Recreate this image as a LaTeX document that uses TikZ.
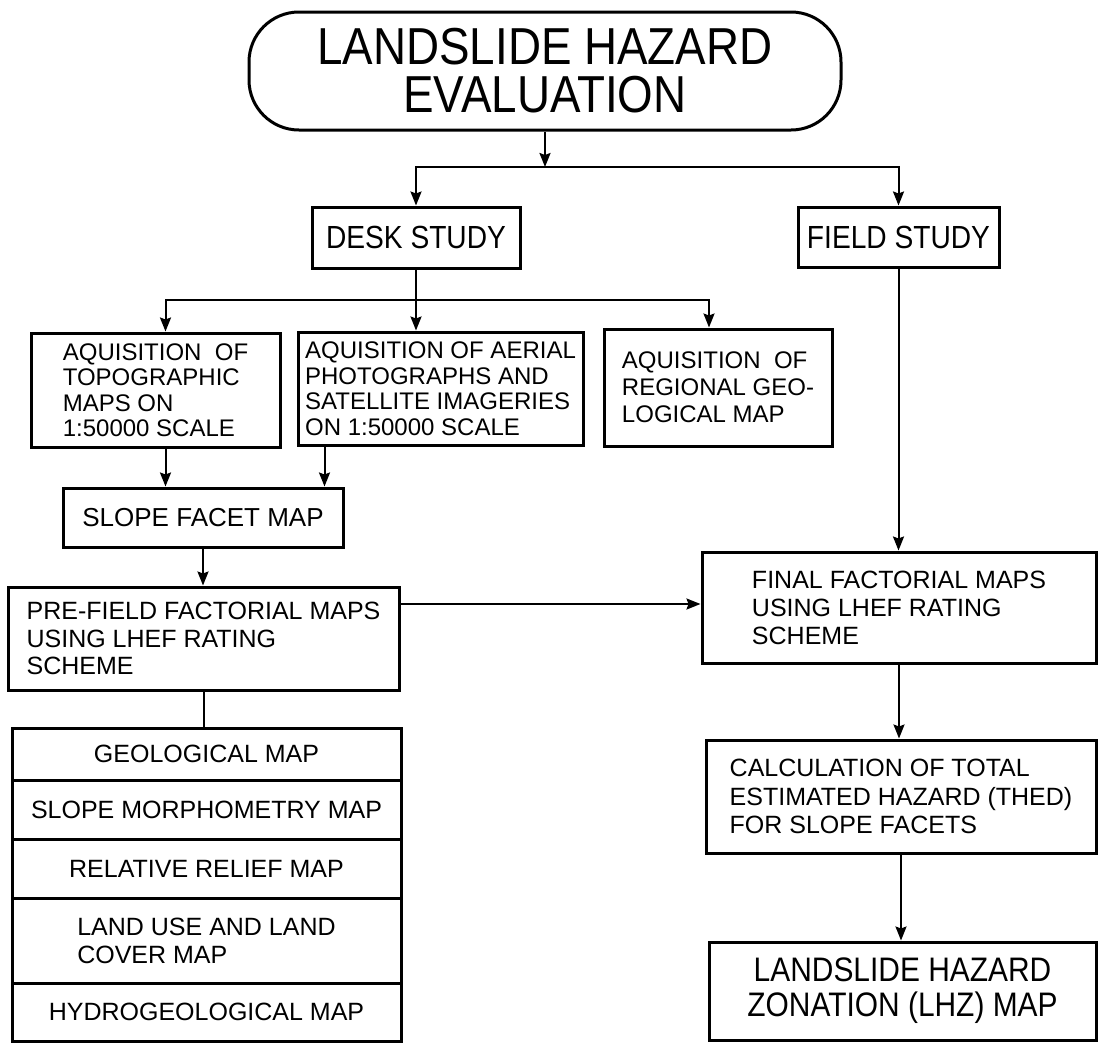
\documentclass[tikz,border=0pt]{standalone}
\usepackage{fontspec}
\setmainfont{Liberation Sans}
\newfontfamily\condfont{Liberation Sans}[FakeStretch=0.88]
\usetikzlibrary{arrows.meta, positioning, calc}
\newcommand{\fs}[2]{\fontsize{#1}{#2}\selectfont}
\tikzset{
  box/.style={draw, line width=3pt, inner sep=0pt, align=left},
  conn/.style={line width=2pt},
  >={Stealth[length=14pt,width=11pt,inset=2pt]}
}

\begin{document}
\begin{tikzpicture}[x=1pt,y=-1pt]
		\useasboundingbox (0,0) rectangle (1098,1042);
		\draw (545,71) node[box, rounded corners=50pt, minimum width=592pt, minimum height=118pt, align=center, font=\condfont\fs{52}{48}] (lhe) {LANDSLIDE HAZARD\\EVALUATION}
		(416,237.5) node[box, minimum width=208pt, minimum height=61pt, font=\condfont\fs{32}{32}] (desk) {DESK STUDY}
		(898.5,237) node[box, minimum width=201pt, minimum height=60pt, font=\condfont\fs{32}{32}] (field) {FIELD STUDY}
		(155.5,390) node[box, minimum width=249pt, minimum height=114pt, font=\fs{24}{25.5}] (topo) {AQUISITION~~OF\\TOPOGRAPHIC\\MAPS ON\\1:50000 SCALE}
		(440.5,388.5) node[box, minimum width=285pt, minimum height=113pt, font=\fs{24}{25.5}] (aerial) {AQUISITION OF AERIAL\\PHOTOGRAPHS AND\\SATELLITE IMAGERIES\\ON 1:50000 SCALE}
		(718,387.5) node[box, minimum width=228pt, minimum height=117pt, font=\fs{24}{27}] (regional) {AQUISITION~~OF\\REGIONAL GEO-\\LOGICAL MAP}
		(203,517.5) node[box, minimum width=280pt, minimum height=59pt, font=\fs{26}{28}] (facet) {SLOPE FACET MAP}
		(203.5,638.5) node[box, minimum width=391pt, minimum height=103pt, font=\fs{25}{27.5}] (prefield) {PRE-FIELD FACTORIAL MAPS\\USING LHEF RATING\\SCHEME}
		(899,607.5) node[box, minimum width=394pt, minimum height=111pt, font=\fs{25}{28}] (final) {FINAL FACTORIAL MAPS\\USING LHEF RATING\\SCHEME}
		(901,796.5) node[box, minimum width=390pt, minimum height=113pt, font=\fs{25}{28.5}] (calc) {CALCULATION OF TOTAL\\ESTIMATED HAZARD (THED)\\FOR SLOPE FACETS}
		(902.5,991) node[box, minimum width=387pt, minimum height=98pt, align=center, font=\condfont\fs{34}{35}] (lhz) {LANDSLIDE HAZARD\\ZONATION (LHZ) MAP}
		(206.5,754) node[box, minimum width=389pt, minimum height=52pt, font=\fs{25}{28}] (geo) {GEOLOGICAL MAP}
		(206.5,809.5) node[box, minimum width=389pt, minimum height=59pt, font=\fs{25}{28}] (morph) {SLOPE MORPHOMETRY MAP}
		(206.5,868.5) node[box, minimum width=389pt, minimum height=59pt, font=\fs{25}{28}] (relief) {RELATIVE RELIEF MAP}
		(206.5,940.5) node[box, minimum width=389pt, minimum height=85pt, font=\fs{25}{28}] (landuse) {LAND USE AND LAND\\COVER MAP}
		(206.5,1012) node[box, minimum width=389pt, minimum height=58pt, font=\fs{25}{28}] (hydro) {HYDROGEOLOGICAL MAP};
		
		\coordinate (tsplit) at (545,167);
		\coordinate (dsplit) at (416,300);
		\coordinate (fin1) at ([xshift=10pt]topo.north);
		\coordinate (fin2) at ([xshift=-20pt]facet.north east);
		\coordinate (fin3) at ([xshift=-9pt]regional.north);
		\coordinate (pfout) at ([yshift=34.5pt]prefield.east);
		
		\draw[conn,->] (lhe) -- (tsplit);
		\draw[conn,->] (tsplit) -| (desk);
		\draw[conn,->] (tsplit) -| (field);
		\draw[conn,->] (desk) -- (desk |- aerial.north);
		\draw[conn,->] (dsplit) -| (fin1);
		\draw[conn,->] (dsplit) -| (fin3);
		\draw[conn,->] (fin1 |- topo.south) -- (fin1 |- facet.north);
		\draw[conn,->] (fin2 |- aerial.south) -- (fin2);
		\draw[conn,->] (facet) -- (facet |- prefield.north);
		\draw[conn,->] (pfout) -- (pfout -| final.west);
		\draw[conn] (prefield) -- (prefield |- geo.north);
		\draw[conn,->] (field) -- (field |- final.north);
		\draw[conn,->] (final) -- (final |- calc.north);
		\draw[conn,->] (calc) -- (calc |- lhz.north);
	\end{tikzpicture}
\end{document}
